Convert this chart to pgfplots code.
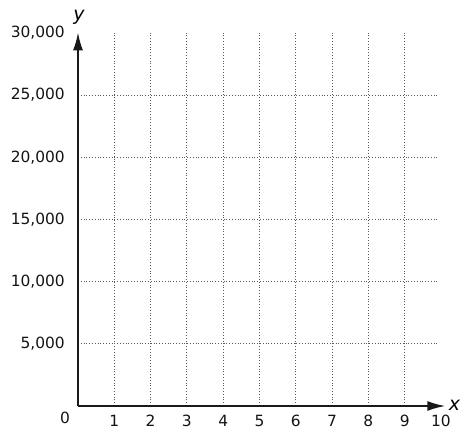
\documentclass[border=0pt]{standalone}
\usepackage{fontspec}
\setmainfont{DejaVu Sans}
\usepackage{pgfplots}
\pgfplotsset{compat=1.18}
\usetikzlibrary{arrows.meta}
\begin{document}
\begin{tikzpicture}
\useasboundingbox (-78bp,-27bp) rectangle (389bp,406bp);
\begin{axis}[
  anchor=origin, at={(0,0)},
  scale only axis, width=366.6bp, height=373bp,
  xmin=0, xmax=10.1, ymin=0, ymax=30000,
  axis lines*=left, clip=false,
  scaled y ticks=false, scaled x ticks=false,
  axis line style={draw=none},
  xtick={1,2,3,4,5,6,7,8,9,10},
  xticklabels={1,2,3,4,5,6,7,8,9,10},
  ytick={5000,10000,15000,20000,25000,30000},
  yticklabels={{5,000},{10,000},{15,000},{20,000},{25,000},{30,000}},
  major tick length=0pt,
  tick style={draw=none},
  ticklabel style={font=\fontsize{15.5}{18}\selectfont, text=black!92},
  yticklabel style={anchor=east, inner sep=0pt, xshift=-13bp},
  xticklabel style={anchor=north, inner sep=0pt, yshift=-9bp},
  gridline/.style={black!65, line width=1.1bp, dash pattern=on 1bp off 1.8bp},
]
\pgfplotsinvokeforeach{1,2,3,4,5,6,7,8,9}{
  \addplot[gridline] coordinates {(#1,0) (#1,30000)};
}
\pgfplotsinvokeforeach{5000,10000,15000,20000,25000}{
  \addplot[gridline] coordinates {(0,#1) (9.9,#1)};
}
\draw[line width=1.8bp, black!90, -{Latex[length=18bp,width=10bp]}] (axis cs:0,0) -- (axis cs:10.12,0);
\draw[line width=1.8bp, black!90, -{Latex[length=18bp,width=10bp]}] (axis cs:0,0) -- (axis cs:0,30050);
\node[font=\fontsize{15.5}{18}\selectfont, text=black!92] at (axis cs:0,0) [xshift=-13bp, yshift=-11.5bp] {0};
\node[font=\fontsize{19}{22}\selectfont\itshape, anchor=west, inner sep=0pt] at (axis cs:10.1,0) [xshift=4bp, yshift=1bp] {x};
\node[font=\fontsize{19}{22}\selectfont\itshape, inner sep=0pt] at (axis cs:0,30000) [xshift=1bp, yshift=16bp] {y};
\end{axis}
\end{tikzpicture}
\end{document}
